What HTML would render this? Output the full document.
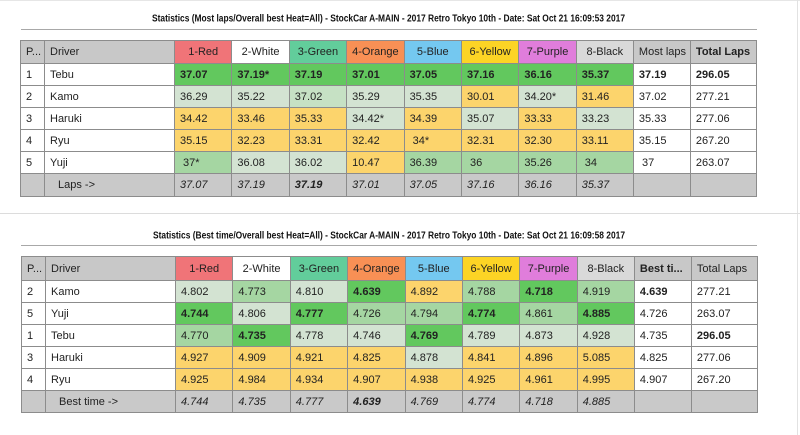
<!DOCTYPE html>
<html><head><meta charset="utf-8">
<style>
body{margin:0;width:800px;height:435px;background:#fff;position:relative;overflow:hidden;font-family:"Liberation Sans",Arial,sans-serif;}
table{position:absolute;border-collapse:collapse;table-layout:fixed;width:736px;font-size:11px;color:#222;}
td{border:1px solid #8c8c8c;padding:0 0 0 5px;white-space:nowrap;overflow:hidden;line-height:12px;}
tr.h td{background:#c8c8c8;}
tr.h td.c{text-align:center;padding:0;}
tr.f td{background:#c9c9c9;font-style:italic;}
.w{background:#fff;}
.G{background:#62c85e;font-weight:bold;}
.M{background:#a5d6a2;}
.L{background:#d3e3d2;}
.Y{background:#fcd46c;}
.b{font-weight:bold;}
.hr{background:#f07478 !important;}
.hw{background:#fff !important;}
.hg{background:#62cd9b !important;}
.ho{background:#f89055 !important;}
.hb{background:#74c8f0 !important;}
.hy{background:#fcd425 !important;}
.hp{background:#e07ddb !important;}
.hk{background:#d9d9d9 !important;}
.ind{padding-left:13px;}
</style></head>
<body>
<div style="position:absolute;left:0;top:0;width:800px;height:1px;background:#e6e6e6"></div>
<div style="position:absolute;left:797px;top:0;width:1px;height:435px;background:#e2e2e2"></div>
<div style="position:absolute;left:0;top:213px;width:800px;height:1px;background:#dcdcdc"></div>
<div style="position:absolute;left:21px;top:29px;width:736px;height:1px;background:#a8a8a8"></div>
<div style="position:absolute;left:21px;top:245px;width:736px;height:1px;background:#a8a8a8"></div>
<svg style="position:absolute;left:0;top:0" width="800" height="435">
<text x="152" y="21.5" font-family="Liberation Sans, Arial, sans-serif" font-size="10" font-weight="bold" fill="#111" textLength="473" lengthAdjust="spacingAndGlyphs">Statistics (Most laps/Overall best Heat=All) - StockCar A-MAIN - 2017 Retro Tokyo 10th - Date: Sat Oct 21 16:09:53 2017</text>
<text x="153" y="238.5" font-family="Liberation Sans, Arial, sans-serif" font-size="10" font-weight="bold" fill="#111" textLength="472" lengthAdjust="spacingAndGlyphs">Statistics (Best time/Overall best Heat=All) - StockCar A-MAIN - 2017 Retro Tokyo 10th - Date: Sat Oct 21 16:09:58 2017</text>
</svg>

<table style="left:20px;top:40px;">
<colgroup><col style="width:24px"><col style="width:130px"><col style="width:57.4px"><col style="width:57.4px"><col style="width:57.4px"><col style="width:57.4px"><col style="width:57.4px"><col style="width:57.4px"><col style="width:57.4px"><col style="width:57.2px"><col style="width:57px"><col style="width:66px"></colgroup>
<tr class="h" style="height:23px"><td>P...</td><td>Driver</td><td class="c hr">1-Red</td><td class="c hw">2-White</td><td class="c hg">3-Green</td><td class="c ho">4-Orange</td><td class="c hb">5-Blue</td><td class="c hy">6-Yellow</td><td class="c hp">7-Purple</td><td class="c hk">8-Black</td><td>Most laps</td><td class="b">Total Laps</td></tr>
<tr style="height:22px"><td class="w">1</td><td class="w">Tebu</td><td class="G">37.07</td><td class="G">37.19*</td><td class="G">37.19</td><td class="G">37.01</td><td class="G">37.05</td><td class="G">37.16</td><td class="G">36.16</td><td class="G">35.37</td><td class="w b">37.19</td><td class="w b">296.05</td></tr>
<tr style="height:22px"><td class="w">2</td><td class="w">Kamo</td><td class="L">36.29</td><td class="L">35.22</td><td class="L" style="background:#c6e1c4">37.02</td><td class="L">35.29</td><td class="L">35.35</td><td class="Y">30.01</td><td class="L">34.20*</td><td class="Y">31.46</td><td class="w">37.02</td><td class="w">277.21</td></tr>
<tr style="height:22px"><td class="w">3</td><td class="w">Haruki</td><td class="Y">34.42</td><td class="Y">33.46</td><td class="Y">35.33</td><td class="L">34.42*</td><td class="Y">34.39</td><td class="L">35.07</td><td class="Y">33.33</td><td class="L">33.23</td><td class="w">35.33</td><td class="w">277.06</td></tr>
<tr style="height:22px"><td class="w">4</td><td class="w">Ryu</td><td class="Y">35.15</td><td class="Y">32.23</td><td class="Y">33.31</td><td class="Y">32.42</td><td class="Y">&nbsp;34*</td><td class="Y">32.31</td><td class="Y">32.30</td><td class="Y">33.11</td><td class="w">35.15</td><td class="w">267.20</td></tr>
<tr style="height:22px"><td class="w">5</td><td class="w">Yuji</td><td class="M">&nbsp;37*</td><td class="L">36.08</td><td class="L">36.02</td><td class="Y">10.47</td><td class="M">36.39</td><td class="M">&nbsp;36</td><td class="M">35.26</td><td class="M">&nbsp;34</td><td class="w">&nbsp;37</td><td class="w">263.07</td></tr>
<tr class="f" style="height:22.5px"><td></td><td class="ind" style="font-style:normal">Laps -&gt;</td><td>37.07</td><td>37.19</td><td class="b">37.19</td><td>37.01</td><td>37.05</td><td>37.16</td><td>36.16</td><td>35.37</td><td></td><td></td></tr>
</table>

<table style="left:21px;top:256px;">
<colgroup><col style="width:24px"><col style="width:130px"><col style="width:57.4px"><col style="width:57.4px"><col style="width:57.4px"><col style="width:57.4px"><col style="width:57.4px"><col style="width:57.4px"><col style="width:57.4px"><col style="width:57.2px"><col style="width:57px"><col style="width:66px"></colgroup>
<tr class="h" style="height:24px"><td>P...</td><td>Driver</td><td class="c hr">1-Red</td><td class="c hw">2-White</td><td class="c hg">3-Green</td><td class="c ho">4-Orange</td><td class="c hb">5-Blue</td><td class="c hy">6-Yellow</td><td class="c hp">7-Purple</td><td class="c hk">8-Black</td><td class="b">Best ti...</td><td>Total Laps</td></tr>
<tr style="height:22px"><td class="w">2</td><td class="w">Kamo</td><td class="L">4.802</td><td class="M">4.773</td><td class="L">4.810</td><td class="G">4.639</td><td class="Y">4.892</td><td class="M">4.788</td><td class="G">4.718</td><td class="M">4.919</td><td class="w b">4.639</td><td class="w">277.21</td></tr>
<tr style="height:22px"><td class="w">5</td><td class="w">Yuji</td><td class="G">4.744</td><td class="L">4.806</td><td class="G">4.777</td><td class="M">4.726</td><td class="M">4.794</td><td class="G">4.774</td><td class="M">4.861</td><td class="G">4.885</td><td class="w">4.726</td><td class="w">263.07</td></tr>
<tr style="height:22px"><td class="w">1</td><td class="w">Tebu</td><td class="M">4.770</td><td class="G">4.735</td><td class="L">4.778</td><td class="L">4.746</td><td class="G">4.769</td><td class="L">4.789</td><td class="L">4.873</td><td class="L">4.928</td><td class="w">4.735</td><td class="w b">296.05</td></tr>
<tr style="height:22px"><td class="w">3</td><td class="w">Haruki</td><td class="Y">4.927</td><td class="Y">4.909</td><td class="Y">4.921</td><td class="Y">4.825</td><td class="L">4.878</td><td class="Y">4.841</td><td class="Y">4.896</td><td class="Y">5.085</td><td class="w">4.825</td><td class="w">277.06</td></tr>
<tr style="height:22px"><td class="w">4</td><td class="w">Ryu</td><td class="Y">4.925</td><td class="Y">4.984</td><td class="Y">4.934</td><td class="Y">4.907</td><td class="Y">4.938</td><td class="Y">4.925</td><td class="Y">4.961</td><td class="Y">4.995</td><td class="w">4.907</td><td class="w">267.20</td></tr>
<tr class="f" style="height:22px"><td></td><td class="ind" style="font-style:normal">Best time -&gt;</td><td>4.744</td><td>4.735</td><td>4.777</td><td class="b">4.639</td><td>4.769</td><td>4.774</td><td>4.718</td><td>4.885</td><td></td><td></td></tr>
</table>
</body></html>
